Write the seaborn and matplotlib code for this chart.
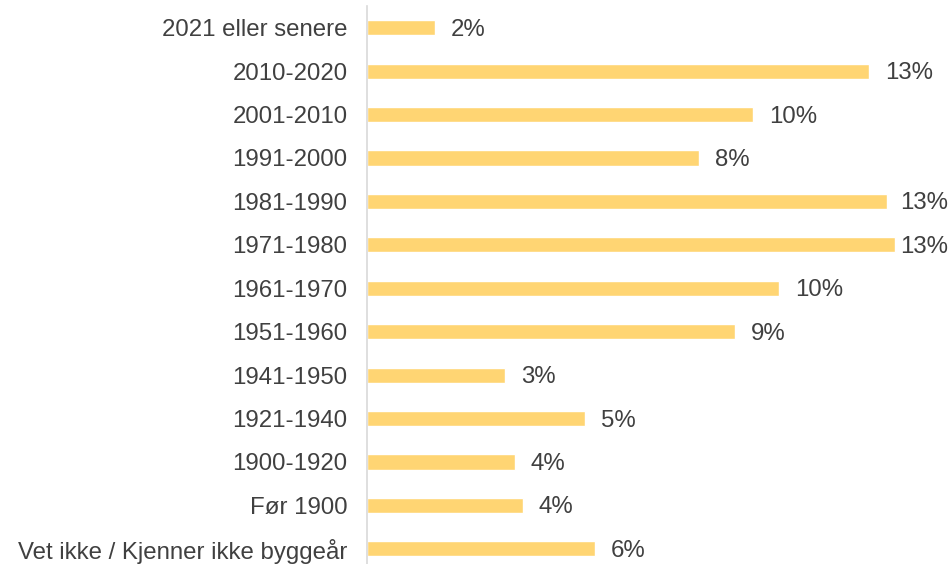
import pandas as pd
import matplotlib
matplotlib.use("Agg")
import matplotlib.pyplot as plt
import seaborn as sns

# Byggeår - andel (%)
kategorier = [
    "2021 eller senere", "2010-2020", "2001-2010", "1991-2000", "1981-1990",
    "1971-1980", "1961-1970", "1951-1960", "1941-1950", "1921-1940",
    "1900-1920", "Før 1900", "Vet ikke / Kjenner ikke byggeår",
]
andel = [1.7, 12.55, 9.65, 8.3, 13.0, 13.2, 10.3, 9.2, 3.45, 5.45, 3.7, 3.9, 5.7]

df = pd.DataFrame({"kategori": kategorier, "andel": andel})

sns.set_style("white")
plt.rcParams["font.family"] = ["Liberation Sans", "DejaVu Sans"]

tekst_farge = "#404040"
fig = plt.figure(figsize=(9.51, 5.64), dpi=100)
ax = fig.add_axes([367 / 951, 0, 580 / 951, 558 / 564])

sns.barplot(data=df, x="andel", y="kategori", orient="h", color="#FFD573",
            saturation=1, width=0.35, ax=ax)

ax.set_xlim(0, 14.5)
ax.set_ylim(12.35, -0.5)
ax.set_xlabel("")
ax.set_ylabel("")
ax.set_xticks([])
ax.tick_params(axis="y", length=0, pad=14, labelsize=17.3, labelcolor=tekst_farge)

for s in ["top", "right", "bottom"]:
    ax.spines[s].set_visible(False)
ax.spines["left"].set_color("#D9D9D9")
ax.spines["left"].set_linewidth(1.2)

# verdietiketter; ved høyre kant trekkes de inn så de får plass
for i, v in enumerate(andel):
    x_px = v / 14.5 * 580
    pad = max(1.5, min(11.5, (583 - x_px - 50) * 0.72))
    ax.annotate(f"{v:.0f}%", xy=(v, i), xytext=(pad, -1.5), textcoords="offset points",
                va="center", ha="left", fontsize=17.3, color=tekst_farge)

plt.savefig("out.png", dpi=100)
plt.close()
